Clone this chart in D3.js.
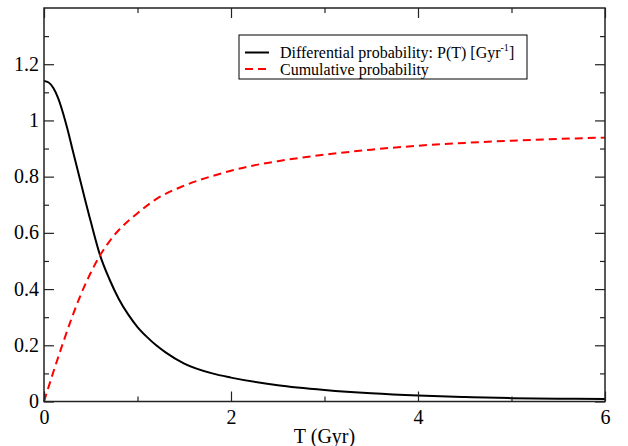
<!DOCTYPE html>
<html>
<head>
<meta charset="utf-8">
<script src="https://cdn.jsdelivr.net/npm/d3@7"></script>
<style>
  html, body { margin: 0; padding: 0; background: #fff; }
  svg { display: block; }
</style>
</head>
<body>
<svg id="chart" width="628" height="446"></svg>
<script>
// Time since formation, in Gyr
const diffT = [0, 0.05, 0.1, 0.15, 0.2, 0.25, 0.3, 0.4, 0.5, 0.6, 0.7, 0.8, 0.9, 1.0, 1.1, 1.2, 1.3, 1.5, 1.8, 2.0, 2.5, 3.0, 3.5, 4.0, 4.5, 5.0, 5.5, 6.0];
// Differential probability P(T) [Gyr^-1]
const diffP = [1.14, 1.135, 1.115, 1.08, 1.03, 0.97, 0.903, 0.77, 0.64, 0.52, 0.435, 0.365, 0.31, 0.265, 0.23, 0.2, 0.175, 0.135, 0.10, 0.085, 0.058, 0.041, 0.029, 0.021, 0.016, 0.012, 0.010, 0.009];

const cumT = [0, 0.1, 0.2, 0.3, 0.4, 0.5, 0.6, 0.7, 0.8, 1.0, 1.2, 1.5, 1.85, 2.2, 2.5, 3.0, 3.5, 4.0, 4.5, 5.0, 5.5, 6.0];
// Cumulative probability
const cumP = [0, 0.105, 0.205, 0.30, 0.385, 0.458, 0.52, 0.57, 0.61, 0.67, 0.72, 0.768, 0.807, 0.837, 0.855, 0.878, 0.896, 0.91, 0.92, 0.928, 0.934, 0.939];

const xTicks = [0, 2, 4, 6];
const xMinor = [1, 3, 5];
const yTicks = [0, 0.2, 0.4, 0.6, 0.8, 1, 1.2];
const yMinor = [0.1, 0.3, 0.5, 0.7, 0.9, 1.1, 1.3];

const legendLabels = ["Differential probability: P(T) [Gyr", "Cumulative probability"];

const svg = d3.select("#chart");
const L = 44, R = 605, T = 8, B = 401.5;
const serif = '"Liberation Serif", "DejaVu Serif", serif';

const x = d3.scaleLinear().domain([0, 6]).range([L, R]);
const y = d3.scaleLinear().domain([0, 1.4]).range([B, T]);

const axisColor = "#222";

// Data curves
const line = d3.line().curve(d3.curveMonotoneX);

svg.append("path")
  .attr("d", line(diffT.map((t, i) => [x(t), y(diffP[i])])))
  .attr("fill", "none").attr("stroke", "#000").attr("stroke-width", 2);

svg.append("path")
  .attr("d", line(cumT.map((t, i) => [x(t), y(cumP[i])])))
  .attr("fill", "none").attr("stroke", "#ff0000").attr("stroke-width", 2)
  .attr("stroke-dasharray", "8,5");

// Frame with inward ticks on all four sides
function tickAxis(axisGen, transform, major, minor, labels) {
  const gMinor = svg.append("g").attr("transform", transform)
    .call(axisGen.tickValues(minor).tickSize(-5).tickFormat(""));
  gMinor.select(".domain").remove();
  gMinor.selectAll("line").attr("stroke", axisColor).attr("stroke-width", 1.2);
  const gMajor = svg.append("g").attr("transform", transform)
    .call(axisGen.tickValues(major).tickSize(-10).tickPadding(12).tickFormat(labels ? d3.format("") : ""));
  gMajor.select(".domain").remove();
  gMajor.selectAll("line").attr("stroke", axisColor).attr("stroke-width", 1.2);
  gMajor.selectAll("text").attr("fill", "#000")
    .style("font-family", serif).style("font-size", "20px");
  return gMajor;
}

const gx = tickAxis(d3.axisBottom(x), `translate(0,${B})`, xTicks, xMinor, true);
gx.selectAll("text").attr("dy", "0.5em").attr("y", 12);
tickAxis(d3.axisTop(x), `translate(0,${T})`, xTicks, xMinor, false);
const gy = tickAxis(d3.axisLeft(y), `translate(${L},0)`, yTicks, yMinor, true);
gy.selectAll("text").attr("x", -5).attr("dy", "0.3em");

tickAxis(d3.axisRight(y), `translate(${R},0)`, yTicks, yMinor, false);

svg.append("rect")
  .attr("x", L).attr("y", T).attr("width", R - L).attr("height", B - T)
  .attr("fill", "none").attr("stroke", axisColor).attr("stroke-width", 1.5);

// Axis title
svg.append("text")
  .attr("x", (L + R) / 2).attr("y", 443)
  .attr("text-anchor", "middle")
  .style("font-family", serif).style("font-size", "20px")
  .text("T (Gyr)");

// Legend
const lg = svg.append("g");
lg.append("rect").attr("x", 239).attr("y", 35).attr("width", 288).attr("height", 44)
  .attr("fill", "#fff").attr("stroke", "#000").attr("stroke-width", 1);
lg.append("line").attr("x1", 245).attr("x2", 269).attr("y1", 52.5).attr("y2", 52.5)
  .attr("stroke", "#000").attr("stroke-width", 2);
lg.append("line").attr("x1", 245).attr("x2", 269).attr("y1", 69).attr("y2", 69)
  .attr("stroke", "#ff0000").attr("stroke-width", 2).attr("stroke-dasharray", "8,5");
const t1 = lg.append("text").attr("x", 280).attr("y", 58)
  .style("font-family", serif).style("font-size", "16px");
t1.append("tspan").text(legendLabels[0]);
t1.append("tspan").attr("dy", -7).style("font-size", "10px").text("-1");
t1.append("tspan").attr("dy", 7).text("]");
lg.append("text").attr("x", 280).attr("y", 75)
  .style("font-family", serif).style("font-size", "16px")
  .text(legendLabels[1]);
</script>
</body>
</html>
